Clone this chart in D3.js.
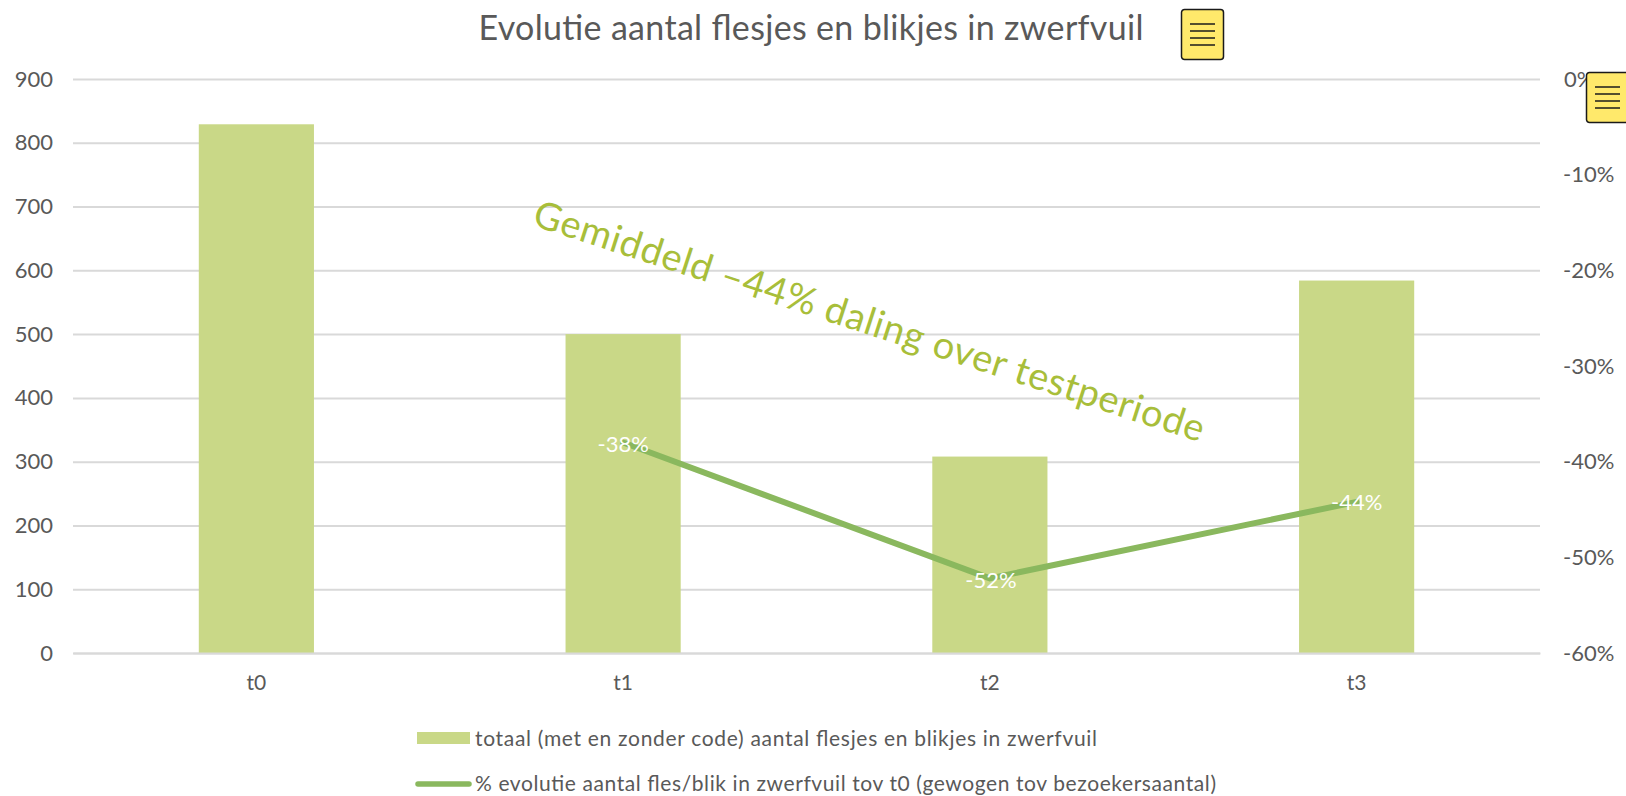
<!DOCTYPE html>
<html><head><meta charset="utf-8">
<script src="https://cdnjs.cloudflare.com/ajax/libs/d3/7.8.5/d3.min.js"></script>
<style>html,body{margin:0;padding:0;background:#fff;overflow:hidden}svg{display:block}text{font-family:Lato,"Open Sans",sans-serif}</style>
</head><body><svg id="c" width="1626" height="796"></svg>
<script>
const categories = ["t0","t1","t2","t3"];
const totals = [829,500,308,584];
const lineCategories = ["t1","t2","t3"];
const evolution = [-0.38,-0.522,-0.442];
const lineLabels = ["-38%","-52%","-44%"];
const leftTicks = [0,100,200,300,400,500,600,700,800,900];
const rightTicks = [0,-0.1,-0.2,-0.3,-0.4,-0.5,-0.6];
const titleText = "Evolutie aantal flesjes en blikjes in zwerfvuil";
const annotationText = "Gemiddeld –44% daling over testperiode";
const legendLabels = ["totaal (met en zonder code) aantal flesjes en blikjes in zwerfvuil","% evolutie aantal fles/blik in zwerfvuil tov t0 (gewogen tov bezoekersaantal)"];

const svg = d3.select("#c");
const L=73,R=1540,T=79,B=653;
const x = d3.scaleBand().domain(categories).range([L,R]).paddingInner(0.686).paddingOuter(0.343);
const y = d3.scaleLinear().domain([0,900]).range([B,T]);
const y2 = d3.scaleLinear().domain([-0.6,0]).range([B,T]);
const grey="#595959", grid="#D9D9D9", barC="#C9D887", lineC="#8AB85E";

const gl = d3.axisLeft(y).tickValues(leftTicks).tickSize(-(R-L)).tickPadding(20);
const gLeft = svg.append("g").attr("transform",`translate(${L},0)`).call(gl);
gLeft.select(".domain").remove();
gLeft.selectAll(".tick line").attr("stroke",grid).attr("stroke-width",2);
gLeft.selectAll("text").attr("fill",grey).attr("font-size",22).style("font-family","Lato");

svg.append("g").selectAll("rect").data(totals).join("rect")
 .attr("x",(d,i)=>x(categories[i])).attr("width",x.bandwidth())
 .attr("y",d=>y(d)).attr("height",d=>y(0)-y(d)).attr("fill",barC);

const gb = svg.append("g").attr("transform",`translate(0,${B})`).call(d3.axisBottom(x).tickSize(0).tickPadding(22));
gb.select(".domain").attr("stroke",grid).attr("stroke-width",2);
gb.selectAll("text").attr("fill",grey).attr("font-size",21).style("font-family","Lato");

const gr = svg.append("g").attr("transform",`translate(${R},0)`).call(d3.axisRight(y2).tickValues(rightTicks).tickSize(0).tickPadding(0).tickFormat(d=>Math.round(d*100)+"%"));
gr.select(".domain").remove();
gr.selectAll("text").attr("fill",grey).attr("font-size",22).attr("x",d=>d===0?24:23).attr("dy","0").style("font-family","Lato").attr("transform","translate(0,7)");

const line = d3.line().x((d,i)=>x(lineCategories[i])+x.bandwidth()/2).y(d=>y2(d));
svg.append("path").datum(evolution).attr("d",line).attr("fill","none").attr("stroke",lineC).attr("stroke-width",6).attr("stroke-linecap","round").attr("stroke-linejoin","round");
svg.append("g").selectAll("text").data(evolution).join("text")
 .attr("x",(d,i)=>x(lineCategories[i])+x.bandwidth()/2-(i==1?-1:0)).attr("y",(d,i)=>y2(d)+[9,10,8][i]).attr("text-anchor","middle")
 .attr("fill","#fff").attr("font-size",22).text((d,i)=>lineLabels[i]);

svg.append("text").attr("x",811).attr("y",40).attr("text-anchor","middle").attr("fill",grey).attr("font-size",34).attr("textLength",665).attr("lengthAdjust","spacing").text(titleText);

svg.append("text").attr("transform","translate(531,225) rotate(18)").attr("fill","#A8BE3A").attr("font-size",38).attr("textLength",703).text(annotationText);

// legend
svg.append("rect").attr("x",417).attr("y",732).attr("width",53).attr("height",12).attr("fill",barC);
svg.append("line").attr("x1",418).attr("x2",469).attr("y1",784).attr("y2",784).attr("stroke",lineC).attr("stroke-width",5.5).attr("stroke-linecap","round");
svg.append("text").attr("x",475).attr("y",746).attr("fill",grey).attr("font-size",21).attr("textLength",622).text(legendLabels[0]);
svg.append("text").attr("x",475).attr("y",791).attr("fill",grey).attr("font-size",21).attr("textLength",741).text(legendLabels[1]);

// note icons
const notes=[[1181,9],[1586,72]];
notes.forEach(([nx,ny])=>{
 const g=svg.append("g").attr("transform",`translate(${nx},${ny})`);
 g.append("rect").attr("x",0.5).attr("y",0.5).attr("width",42).attr("height",50).attr("rx",3).attr("fill","#FFE96B").attr("stroke","#1a1a1a").attr("stroke-width",1.5);
 [15,22,29,36].forEach(v=>g.append("line").attr("x1",9).attr("x2",34).attr("y1",v).attr("y2",v).attr("stroke","#1a1a1a").attr("stroke-width",1.5));
});
</script></body></html>
